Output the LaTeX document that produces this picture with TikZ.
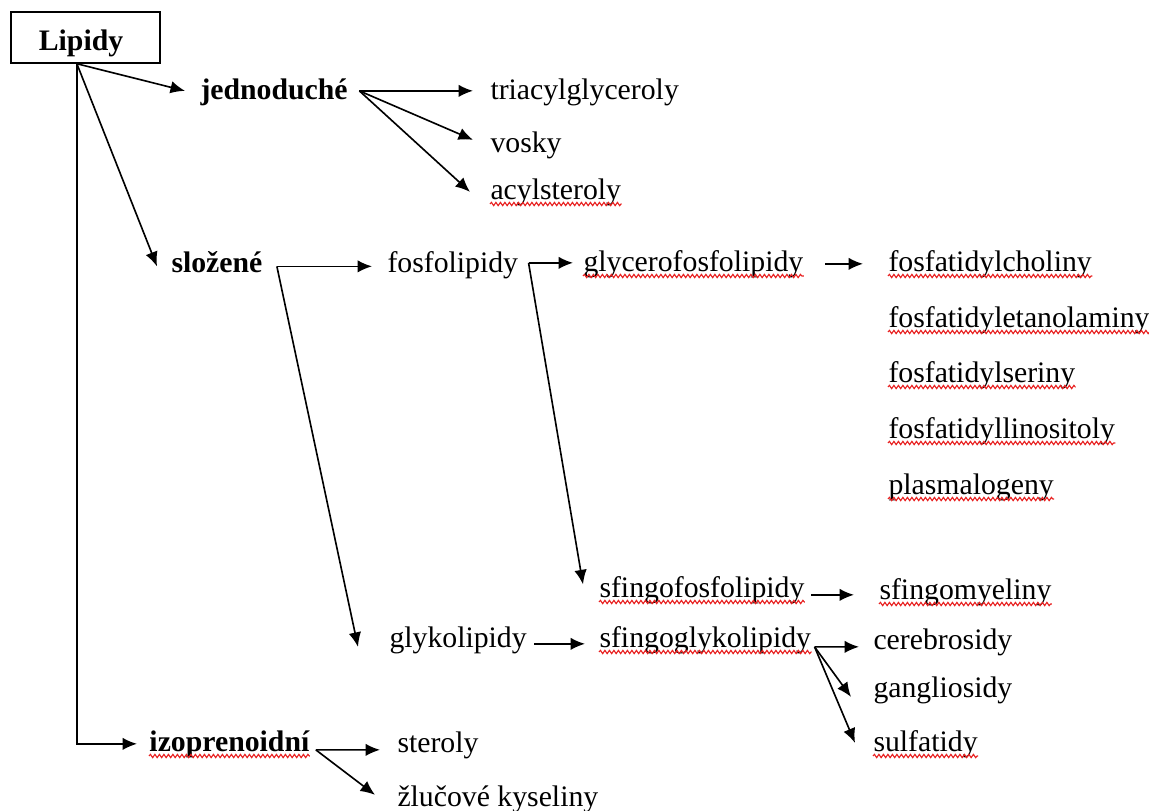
\documentclass[tikz,border=0pt]{standalone}
\usepackage{fontspec}
\setmainfont{Liberation Serif}
\usetikzlibrary{arrows.meta,positioning,calc,decorations.pathmorphing}
\definecolor{spellred}{RGB}{232,32,32}
\newcommand{\lipfont}{\fontsize{11.9}{14}\selectfont}
\tikzset{
    % Root box style
    rootbox/.style={
        rectangle, draw, line width=0.7pt, anchor=north west,
        font=\lipfont\bfseries, inner xsep=11.2pt, inner ysep=0pt,
        text width=37.2pt, align=left, text height=15.6pt, text depth=4.8pt
    },
    % Group label style
    grouplabel/.style={
        rectangle, draw=none, fill=none, font=\lipfont\bfseries,
        anchor=base west, inner sep=0pt, text height=8.3pt, text depth=3pt
    },
    % Item label style
    itemlabel/.style={
        rectangle, draw=none, fill=none, font=\lipfont,
        anchor=base west, inner sep=0pt, text height=8.3pt, text depth=3pt
    },
    % Connector arrows
    linkarrow/.style={
        -{Latex[length=5.8pt,width=5pt]}, line width=0.65pt, color=black
    },
    % Spell-check underline
    spellmark/.style={
        draw=spellred, line width=0.45pt, decorate,
        decoration={snake, amplitude=0.65pt, segment length=1.8pt}
    }
}

\begin{document}
\begin{tikzpicture}[x=0.4pt, y=-0.4pt]
\useasboundingbox (0,0) rectangle (1149,811);

\node[rootbox] (lipidy) at (10,11) {Lipidy};

% first level
\node[grouplabel] (jedn) at (200,100) {jednoduché};
\node[grouplabel] (slozene) at (171,273) {složené};
\node[grouplabel] (izopren) at (149,752) {izoprenoidní};

% simple lipids
\node[itemlabel] (triacyl) at (490,100) {triacylglyceroly};
\node[itemlabel] (vosky) at (490,153) {vosky};
\node[itemlabel] (acyl) at (490,200) {acylsteroly};

% complex lipids
\node[itemlabel] (fosfo) at (387,273) {fosfolipidy};
\node[itemlabel] (glycero) at (583,272) {glycerofosfolipidy};
\node[itemlabel] (fchol) at (888,272) {fosfatidylcholiny};
\node[itemlabel] (fetan) at (888,328) {fosfatidyletanolaminy};
\node[itemlabel] (fser) at (888,383) {fosfatidylseriny};
\node[itemlabel] (fino) at (888,439) {fosfatidyllinositoly};
\node[itemlabel] (plasm) at (888,495) {plasmalogeny};
\node[itemlabel] (sfos) at (599,598) {sfingofosfolipidy};
\node[itemlabel] (smyel) at (879,600) {sfingomyeliny};
\node[itemlabel] (glyko) at (389,648) {glykolipidy};
\node[itemlabel] (sglyk) at (599,648) {sfingoglykolipidy};
\node[itemlabel] (cereb) at (873,650) {cerebrosidy};
\node[itemlabel] (gangl) at (873,698) {gangliosidy};
\node[itemlabel] (sulf) at (873,752) {sulfatidy};

% isoprenoids
\node[itemlabel] (steroly) at (397,753) {steroly};
\node[itemlabel] (zluc) at (397,807) {žlučové kyseliny};

% branch points
\coordinate (root) at ([xshift=-3.4pt]lipidy.south);
\coordinate (je out) at ([xshift=4.5pt,yshift=1pt]jedn.east);
\coordinate (sl out) at ([xshift=5.6pt]slozene.east);
\coordinate (fo out) at ([xshift=4pt,yshift=1.4pt]fosfo.east);
\coordinate (sg out) at ([xshift=1.2pt,yshift=-2.2pt]sglyk.east);
\coordinate (iz out) at ([xshift=2.4pt,yshift=-1.8pt]izopren.east);

% arrows
\draw[linkarrow] (root) -- ([xshift=-6pt,yshift=1pt]jedn.west);
\draw[linkarrow] (root) -- ([xshift=-5.6pt]slozene.west);
\draw[linkarrow] (root) |- ([xshift=-4.8pt,yshift=0.6pt]izopren.west);

\draw[linkarrow] (je out) -- ([xshift=-6.8pt,yshift=1pt]triacyl.west);
\draw[linkarrow] (je out) -- ([xshift=-6.8pt,yshift=2.6pt]vosky.west);
\draw[linkarrow] (je out) -- ([xshift=-8pt,yshift=0.6pt]acyl.west);

\draw[linkarrow] (sl out) -- ([xshift=-6pt]fosfo.west);
\draw[linkarrow] (sl out) -- ([xshift=-12.4pt,yshift=-2.2pt]glyko.west);

\draw[linkarrow] (fo out) -- ([xshift=-4pt,yshift=1pt]glycero.west);
\draw[linkarrow] (fo out) -- ([xshift=-6.4pt,yshift=2.8pt]sfos.west);
\draw[linkarrow] ([xshift=8.6pt,yshift=0.6pt]glycero.east) -- ([xshift=-10pt,yshift=0.6pt]fchol.west);
\draw[linkarrow] ([xshift=2.6pt,yshift=-1.4pt]sfos.east) -- ([xshift=-10pt,yshift=-0.6pt]smyel.west);

\draw[linkarrow] ([xshift=2.8pt,yshift=-1pt]glyko.east) -- ([xshift=-5.6pt,yshift=-1pt]sglyk.west);
\draw[linkarrow] (sg out) -- ([xshift=-5.6pt,yshift=-1.4pt]cereb.west);
\draw[linkarrow] (sg out) -- ([xshift=-8.8pt,yshift=-2.2pt]gangl.west);
\draw[linkarrow] (sg out) -- ([xshift=-7.2pt,yshift=1pt]sulf.west);

\draw[linkarrow] (iz out) -- ([xshift=-6.8pt,yshift=-1.4pt]steroly.west);
\draw[linkarrow] (iz out) -- ([xshift=-8.8pt,yshift=2.2pt]zluc.west);

% spell-check marks
\foreach \n in {acyl,glycero,fchol,fetan,fser,fino,plasm,sfos,smyel,sglyk,sulf,izopren} {
    \draw[spellmark] ([yshift=-1.6pt]\n.base west) -- ([yshift=-1.6pt]\n.base east);
}

\end{tikzpicture}
\end{document}
